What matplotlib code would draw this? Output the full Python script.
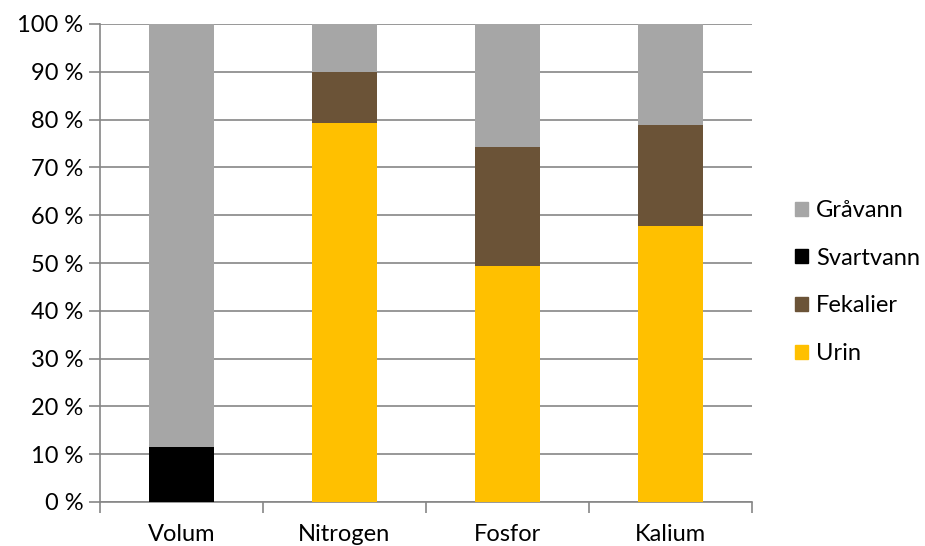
import matplotlib.pyplot as plt
import numpy as np
from matplotlib.patches import Patch
from matplotlib.ticker import FuncFormatter

categories = ["Volum", "Nitrogen", "Fosfor", "Kalium"]
urin = [0, 79.3, 49.4, 57.7]
fekalier = [0, 10.7, 24.9, 21.2]
svartvann = [11.6, 0, 0, 0]
gravann = [88.4, 10.0, 25.7, 21.1]

colors = {"Urin": "#FFC000", "Fekalier": "#6B5337",
          "Svartvann": "#000000", "Gråvann": "#A6A6A6"}

plt.rcParams['font.family'] = ['Lato', 'DejaVu Sans']
fs = 17

fig = plt.figure(figsize=(9.25, 5.46), dpi=100)
ax = fig.add_axes([100/925, 44/546, 652/925, 478/546])

x = np.arange(len(categories))
w = 0.4
bottom = np.zeros(len(categories))
for name, vals in [("Urin", urin), ("Fekalier", fekalier),
                   ("Svartvann", svartvann), ("Gråvann", gravann)]:
    ax.bar(x, vals, w, bottom=bottom, color=colors[name], zorder=3)
    bottom += np.array(vals)

ax.set_ylim(0, 100)
ax.set_xlim(-0.5, 3.5)
ax.set_yticks(np.arange(0, 101, 10))
ax.yaxis.set_major_formatter(FuncFormatter(lambda v, p: f"{int(v)} %"))
ax.grid(axis="y", color="#868686", linewidth=1.2, zorder=0)

ax.set_xticks(np.arange(-0.5, 4, 1))
ax.set_xticklabels([])
ax.set_xticks(x, minor=True)
ax.set_xticklabels(categories, minor=True, fontsize=fs)
ax.tick_params(axis="x", which="major", length=8, color="#868686", width=1.2)
ax.tick_params(axis="x", which="minor", length=0, pad=16)
ax.tick_params(axis="y", length=8, color="#868686", width=1.2, pad=4, labelsize=fs)

for s in ["top", "right"]:
    ax.spines[s].set_visible(False)
for s in ["left", "bottom"]:
    ax.spines[s].set_color("#868686")
    ax.spines[s].set_linewidth(1.2)

handles = [Patch(color=colors[n], label=n) for n in ["Gråvann", "Svartvann", "Fekalier", "Urin"]]
fig.legend(handles=handles, loc="center left", bbox_to_anchor=(795/925, 1 - 282/546),
           frameon=False, borderpad=0, borderaxespad=0, handlelength=0.55,
           handleheight=0.55, handletextpad=0.35, labelspacing=1.13, fontsize=fs)

fig.savefig("out.png", dpi=100)
